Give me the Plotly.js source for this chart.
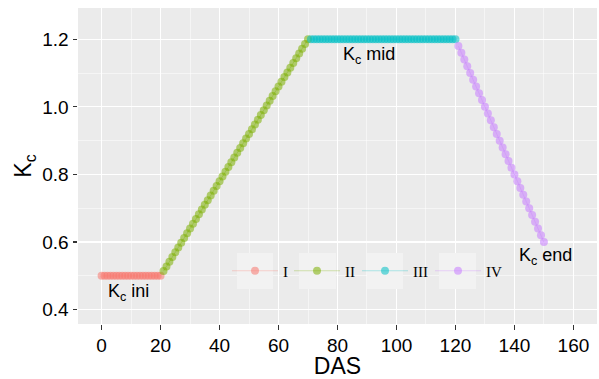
<!DOCTYPE html>
<html><head><meta charset="utf-8">
<script src="https://cdn.plot.ly/plotly-3.0.1.min.js"></script>
<style>html,body{margin:0;padding:0;background:#fff}</style>
</head><body><div id="chart" style="width:599px;height:379px"></div>
<script>
const stageNames = ['I', 'II', 'III', 'IV'];
const stageColors = ['248,118,109', '124,174,0', '0,191,196', '199,124,255'];

const daysI = [0,1,2,3,4,5,6,7,8,9,10,11,12,13,14,15,16,17,18,19,20];
const kcI = [0.5,0.5,0.5,0.5,0.5,0.5,0.5,0.5,0.5,0.5,0.5,0.5,0.5,0.5,0.5,0.5,0.5,0.5,0.5,0.5,0.5];

const daysII = [21,22,23,24,25,26,27,28,29,30,31,32,33,34,35,36,37,38,39,40,41,42,43,44,45,46,47,48,49,50,51,52,53,54,55,56,57,58,59,60,61,62,63,64,65,66,67,68,69,70];
const kcII = [0.514,0.528,0.542,0.556,0.570,0.584,0.598,0.612,0.626,0.640,0.654,0.668,0.682,0.696,0.710,0.724,0.738,0.752,0.766,0.780,0.794,0.808,0.822,0.836,0.850,0.864,0.878,0.892,0.906,0.920,0.934,0.948,0.962,0.976,0.990,1.004,1.018,1.032,1.046,1.060,1.074,1.088,1.102,1.116,1.130,1.144,1.158,1.172,1.186,1.200];

const daysIII = [71,72,73,74,75,76,77,78,79,80,81,82,83,84,85,86,87,88,89,90,91,92,93,94,95,96,97,98,99,100,101,102,103,104,105,106,107,108,109,110,111,112,113,114,115,116,117,118,119,120];
const kcIII = [1.2,1.2,1.2,1.2,1.2,1.2,1.2,1.2,1.2,1.2,1.2,1.2,1.2,1.2,1.2,1.2,1.2,1.2,1.2,1.2,1.2,1.2,1.2,1.2,1.2,1.2,1.2,1.2,1.2,1.2,1.2,1.2,1.2,1.2,1.2,1.2,1.2,1.2,1.2,1.2,1.2,1.2,1.2,1.2,1.2,1.2,1.2,1.2,1.2,1.2];

const daysIV = [121,122,123,124,125,126,127,128,129,130,131,132,133,134,135,136,137,138,139,140,141,142,143,144,145,146,147,148,149,150];
const kcIV = [1.18,1.16,1.14,1.12,1.10,1.08,1.06,1.04,1.02,1.00,0.98,0.96,0.94,0.92,0.90,0.88,0.86,0.84,0.82,0.80,0.78,0.76,0.74,0.72,0.70,0.68,0.66,0.64,0.62,0.60];

const stageDays = [daysI, daysII, daysIII, daysIV];
const stageKc = [kcI, kcII, kcIII, kcIV];

const xTicks = [0, 20, 40, 60, 80, 100, 120, 140, 160];
const yTicks = [0.4, 0.6, 0.8, 1.0, 1.2];
const yTickText = ['0.4', '0.6', '0.8', '1.0', '1.2'];

const labelTexts = ['K<sub>c</sub> ini', 'K<sub>c</sub> mid', 'K<sub>c</sub> end'];
const labelX = [9, 90.6, 150.7];
const labelY = [0.452, 1.153, 0.556];

const legendIds = ['legend', 'legend2', 'legend3', 'legend4'];
const legendLeftPx = [227, 289, 357, 430];

const W = 599, H = 379;
const M = {l: 78, r: 2, t: 8, b: 55};
const pw = W - M.l - M.r, ph = H - M.t - M.b;
const pxToPaperX = px => (px - M.l) / pw;
const pxToPaperY = py => (H - M.b - py) / ph;

const traces = stageNames.map((nm, i) => ({
  type: 'scatter',
  mode: 'lines+markers',
  name: nm,
  x: stageDays[i],
  y: stageKc[i],
  legend: legendIds[i],
  line: {color: 'rgba(' + stageColors[i] + ',0.3)', width: 1},
  marker: {color: 'rgba(' + stageColors[i] + ',0.55)', size: 8, line: {width: 0}},
  hoverinfo: 'x+y'
}));

const keyBoxes = [[237, 273], [299, 336], [367, 403], [439, 476]];
const shapes = keyBoxes.map(b => ({
  type: 'rect', xref: 'paper', yref: 'paper', layer: 'above',
  x0: pxToPaperX(b[0]), x1: pxToPaperX(b[1]),
  y0: pxToPaperY(289), y1: pxToPaperY(253),
  fillcolor: '#F2F2F2', line: {width: 0}
}));

const layout = {
  width: W, height: H,
  margin: {l: M.l, r: M.r, t: M.t, b: M.b, pad: 0},
  paper_bgcolor: '#FFFFFF',
  plot_bgcolor: '#EBEBEB',
  font: {family: 'Liberation Sans, Arial, sans-serif', color: '#000'},
  showlegend: true,
  xaxis: {
    range: [-8, 168], tickvals: xTicks, ticktext: xTicks.map(String),
    showgrid: true, gridcolor: '#FFFFFF', gridwidth: 1.1, zeroline: false,
    minor: {dtick: 10, tick0: 0, showgrid: true, gridcolor: '#FFFFFF', gridwidth: 0.5},
    ticks: 'outside', ticklen: 4.5, tickwidth: 1.1, tickcolor: '#333333',
    tickfont: {size: 19, color: '#000'},
    showline: false,
    title: {text: 'DAS', font: {size: 23, color: '#000'}, standoff: 5}
  },
  yaxis: {
    range: [0.3575, 1.2925], tickvals: yTicks, ticktext: yTickText,
    showgrid: true, gridcolor: '#FFFFFF', gridwidth: 1.1, zeroline: false,
    minor: {dtick: 0.1, tick0: 0, showgrid: true, gridcolor: '#FFFFFF', gridwidth: 0.5},
    ticks: 'outside', ticklen: 4.5, tickwidth: 1.1, tickcolor: '#333333',
    tickfont: {size: 19, color: '#000'},
    showline: false,
    title: {text: 'K<sub>c</sub>', font: {size: 23, color: '#000'}, standoff: 4}
  },
  shapes: shapes,
  annotations: labelTexts.map((t, i) => ({
    x: labelX[i], y: labelY[i], xref: 'x', yref: 'y', text: t,
    showarrow: false, xanchor: 'center', yanchor: 'middle',
    font: {size: 18, color: '#000'}
  }))
};

legendIds.forEach((id, i) => {
  layout[id] = {
    x: pxToPaperX(legendLeftPx[i]), y: pxToPaperY(271),
    xanchor: 'left', yanchor: 'middle',
    orientation: 'h', bgcolor: 'rgba(0,0,0,0)', borderwidth: 0,
    itemwidth: 46,
    font: {family: 'Liberation Serif, Times New Roman, serif', size: 15, color: '#000'}
  };
});

Plotly.newPlot('chart', traces, layout, {displayModeBar: false, staticPlot: true});
</script>
</body></html>
